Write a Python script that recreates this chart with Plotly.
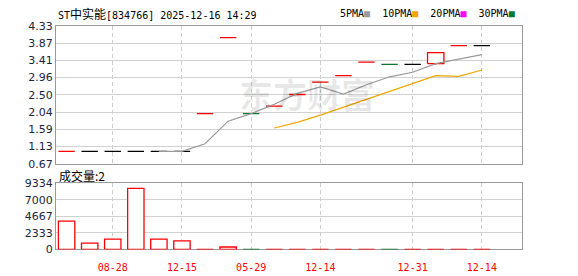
import plotly.graph_objects as go

# ---------------- data ----------------
x_idx = [0, 1, 2, 3, 4, 5, 6, 7, 8, 9, 10, 11, 12, 13, 14, 15, 16, 17, 18]
opens = [1.00, 1.00, 1.00, 1.00, 1.00, 1.00, 2.00, 4.02, 2.00, 2.20, 2.51, 2.84, 3.01, 3.37, 3.31, 3.31, 3.33, 3.81, 3.81]
closes = [1.00, 1.00, 1.00, 1.00, 1.00, 1.00, 2.00, 4.02, 2.00, 2.20, 2.51, 2.84, 3.01, 3.37, 3.31, 3.31, 3.62, 3.81, 3.81]
highs = [1.00, 1.00, 1.00, 1.00, 1.00, 1.00, 2.00, 4.02, 2.00, 2.20, 2.51, 2.84, 3.01, 3.37, 3.31, 3.31, 3.62, 3.81, 3.81]
lows = [1.00, 1.00, 1.00, 1.00, 1.00, 1.00, 2.00, 4.02, 2.00, 2.20, 2.51, 2.84, 3.01, 3.37, 3.31, 3.31, 3.31, 3.81, 3.81]
candle_dir = ["up", "flat", "flat", "flat", "flat", "flat", "up", "up", "down", "up",
              "up", "up", "up", "up", "down", "flat", "up", "up", "flat"]
volumes = [4000, 900, 1450, 8600, 1450, 1200, 40, 350, 40, 40, 40, 40, 40, 40, 40, 40, 40, 40, 2]
vol_dir = ["up", "up", "up", "up", "up", "up", "up", "up", "down", "up",
           "up", "up", "up", "up", "down", "up", "up", "up", "up"]
ma5 = [None, None, None, None, 1.00, 1.00, 1.20, 1.80, 2.00, 2.25, 2.54, 2.71, 2.52, 2.77, 2.98, 3.10, 3.33, 3.46, 3.57]
ma10 = [None, None, None, None, None, None, None, None, None, 1.62, 1.77, 1.96, 2.17, 2.40, 2.61, 2.82, 3.01, 2.99, 3.16]

price_ticks = [0.67, 1.13, 1.59, 2.04, 2.50, 2.96, 3.41, 3.87, 4.33]
price_labels = ["0.67", "1.13", "1.59", "2.04", "2.50", "2.96", "3.41", "3.87", "4.33"]
vol_ticks = [0, 2333, 4667, 7000, 9334]
vol_labels = ["0", "2333", "4667", "7000", "9334"]
date_pos = [2, 5, 8, 11, 15, 18]
date_labels = ["08-28", "12-15", "05-29", "12-14", "12-31", "12-14"]

title_code = "ST"
title_name = "中实能"
title_rest = "[834766] 2025-12-16 14:29"
vol_title = "成交量:2"

# ---------------- styles ----------------
RED = "#ff0000"
GREEN = "#08782c"
BLACK = "#000000"
dir_color = {"up": RED, "down": GREEN, "flat": BLACK}
HALF = 0.355
AXIS_FONT = dict(family="DejaVu Sans", size=11, color="#1c2440")
MONO = "DejaVu Sans Mono"

fig = go.Figure()

# candles
for d, col in dir_color.items():
    xs, ys = [], []
    for i, o, c, h, l, dd in zip(x_idx, opens, closes, highs, lows, candle_dir):
        if dd != d:
            continue
        if o == c:
            xs += [i - HALF, i + HALF, None]
            ys += [c, c, None]
        else:
            lo, hi = min(o, c), max(o, c)
            xs += [i - HALF, i + HALF, i + HALF, i - HALF, i - HALF, None]
            ys += [lo, lo, hi, hi, lo, None]
            if h > hi:
                xs += [i, i, None]
                ys += [hi, h, None]
            if l < lo:
                xs += [i, i, None]
                ys += [l, lo, None]
    if xs:
        fig.add_trace(go.Scatter(x=xs, y=ys, mode="lines", fill="toself", fillcolor="white",
                                 line=dict(color=col, width=1.3), hoverinfo="skip",
                                 xaxis="x", yaxis="y"))

# moving averages
fig.add_trace(go.Scatter(x=x_idx, y=ma5, mode="lines", line=dict(color="#9a9a9a", width=1.2),
                         xaxis="x", yaxis="y", hoverinfo="skip"))
fig.add_trace(go.Scatter(x=x_idx, y=ma10, mode="lines", line=dict(color="#f2a500", width=1.2),
                         xaxis="x", yaxis="y", hoverinfo="skip"))

# volume bars
for d, col in {"up": RED, "down": GREEN}.items():
    xs, ys = [], []
    for i, v, dd in zip(x_idx, volumes, vol_dir):
        if dd != d:
            continue
        xs += [i - HALF, i + HALF, i + HALF, i - HALF, i - HALF, None]
        ys += [0, 0, v, v, 0, None]
    fig.add_trace(go.Scatter(x=xs, y=ys, mode="lines", fill="toself", fillcolor="white",
                             line=dict(color=col, width=1.3), hoverinfo="skip",
                             xaxis="x2", yaxis="y2"))

XDOM = [56 / 578, 522 / 578]
common_x = dict(domain=XDOM, range=[-0.46, 19.74], tickmode="array", tickvals=date_pos,
                showgrid=True, gridcolor="#cccccc", griddash="4px,3px", gridwidth=1,
                showline=True, mirror=True, linecolor="#999999", linewidth=1,
                zeroline=False, ticks="", layer="below traces")
fig.update_layout(
    width=578, height=276, margin=dict(l=0, r=0, t=0, b=0),
    paper_bgcolor="white", plot_bgcolor="white", showlegend=False,
    xaxis=dict(**common_x, anchor="y", showticklabels=False),
    xaxis2=dict(**common_x, anchor="y2", matches="x", ticktext=date_labels,
                ticklabelstandoff=9,
                tickfont=dict(family=MONO, size=10, color=RED)),
    yaxis=dict(domain=[1 - 165.5 / 276, 1 - 21 / 276], range=[0.67, 4.33],
               tickmode="array", tickvals=price_ticks, ticktext=price_labels,
               showgrid=True, gridcolor="#d2d2d2", gridwidth=1,
               showline=True, mirror=True, linecolor="#999999", linewidth=1,
               zeroline=False, ticks="", tickfont=AXIS_FONT, anchor="x",
               layer="below traces"),
    yaxis2=dict(domain=[1 - 255.5 / 276, 1 - 186 / 276], range=[0, 9334],
                tickmode="array", tickvals=vol_ticks, ticktext=vol_labels,
                showgrid=True, gridcolor="#d2d2d2", gridwidth=1,
                showline=True, mirror=True, linecolor="#999999", linewidth=1,
                zeroline=False, ticks="", tickfont=AXIS_FONT, anchor="x2",
                layer="below traces"),
)

cjk = "font-family:Noto Sans CJK SC;font-size:12px"
annotations = [
    dict(x=56 / 578, y=1 - 8 / 276, xref="paper", yref="paper", xanchor="left", yanchor="middle",
         showarrow=False, font=dict(family=MONO, size=10, color="black"),
         text=f'{title_code}<span style="{cjk}">{title_name}</span>{title_rest}'),
    dict(x=338 / 578, y=1 - 8 / 276, xref="paper", yref="paper", xanchor="left", yanchor="middle",
         showarrow=False, font=dict(family=MONO, size=10, color="black"),
         text='5PMA<span style="color:#9a9a9a">■</span>\u00a0\u00a010PMA<span style="color:#f2a500">■</span>'
              '\u00a0\u00a020PMA<span style="color:#ff00ff">■</span>\u00a0\u00a030PMA<span style="color:#08782c">■</span>'),
    dict(x=57 / 578, y=1 - 177.5 / 276, xref="paper", yref="paper", xanchor="left", yanchor="middle",
         showarrow=False, font=dict(family="Noto Sans CJK SC", size=12, color="black"),
         text=vol_title),
    dict(x=307 / 578, y=1 - 92 / 276, xref="paper", yref="paper", xanchor="center", yanchor="middle",
         showarrow=False, font=dict(family="Noto Sans CJK SC", size=34, color="rgba(0,0,0,0.09)"),
         text="<b>东方财富</b>"),
]
fig.update_layout(annotations=annotations)

fig.write_html("out.html")
